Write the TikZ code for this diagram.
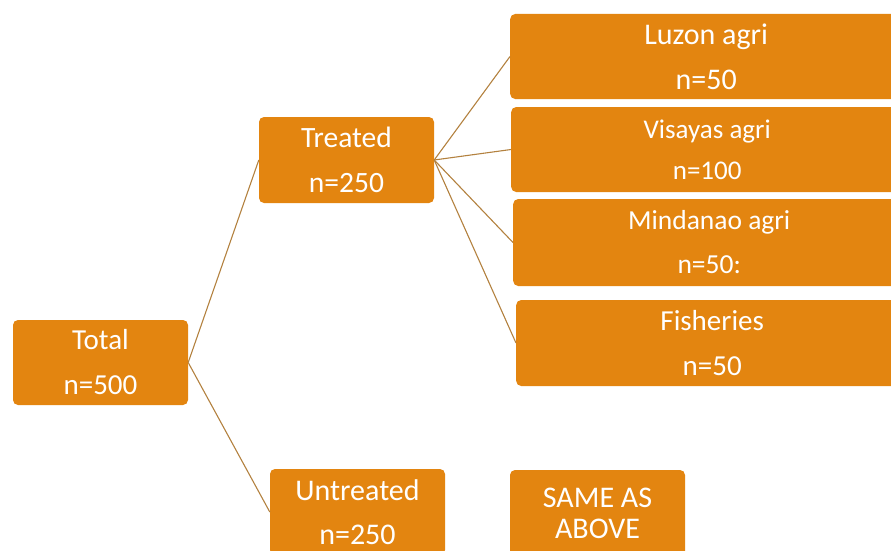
\documentclass[tikz,border=0pt]{standalone}
\usepackage{fontspec}
\setmainfont{Carlito}
\usepackage{tikz}

\begin{document}
\begin{tikzpicture}[x=1pt,y=-1pt,
        caja/.style={fill=naranja, rounded corners=5pt, text=white, align=center,
            inner sep=0pt, minimum width=175pt, minimum height=86pt,
            font=\fontsize{29.5}{45}\selectfont},
        ancha/.style={caja, minimum width=392pt, anchor=west},
        rama/.style={draw=lineaC, line width=1.1pt}]
        \definecolor{naranja}{HTML}{E38510}
        \definecolor{lineaC}{HTML}{B3813F}
        \useasboundingbox (0,0) rectangle (891,551);
        \clip (0,0) rectangle (891,551);
        \node[caja, minimum height=85pt, font=\fontsize{29}{45}\selectfont] (total) at (100.5,362.5) {Total\\n=500};
        \node[caja] (tratado) at (346.5,160) {Treated\\n=250};
        \node[caja, font=\fontsize{30}{44}\selectfont] (notratado) at (357.5,512) {Untreated\\n=250};
        \node[caja, font=\fontsize{30}{31}\selectfont] (igual) at (597.5,513) {SAME AS\\ABOVE};
        \node[ancha, minimum height=85pt, font=\fontsize{30}{45}\selectfont] (luzon) at (510,56.5) {Luzon agri\\n=50};
        \node[ancha, minimum height=85pt, font=\fontsize{27}{41}\selectfont] (visayas) at (511,149.5) {Visayas agri\\n=100};
        \node[ancha, minimum height=87pt, font=\fontsize{27.5}{44}\selectfont] (mindanao) at (513,242.5) {Mindanao agri\\n=50:};
        \node[ancha, font=\fontsize{29}{45}\selectfont] (pesca) at (516,343) {Fisheries\\n=50};
        \draw[rama] (total.east) -- (tratado.west);
        \draw[rama] (total.east) -- (notratado.west);
        \draw[rama] (tratado.east) -- (luzon.west);
        \draw[rama] (tratado.east) -- (visayas.west);
        \draw[rama] (tratado.east) -- (mindanao.west);
        \draw[rama] (tratado.east) -- (pesca.west);
\end{tikzpicture}
\end{document}
